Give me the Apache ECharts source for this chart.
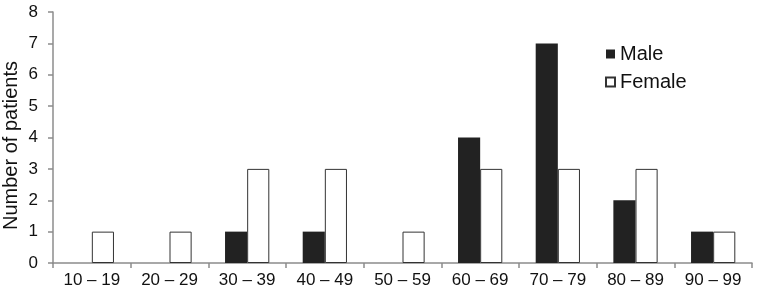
<!DOCTYPE html>
<html>
<head>
<meta charset="utf-8">
<script src="https://cdn.jsdelivr.net/npm/echarts@6/dist/echarts.min.js"></script>
<style>
html, body { margin: 0; padding: 0; background: #fff; }
#chart { width: 757px; height: 295px; }
</style>
</head>
<body>
<div id="chart"></div>
<script>
let ageGroups = ['10 – 19', '20 – 29', '30 – 39', '40 – 49', '50 – 59', '60 – 69', '70 – 79', '80 – 89', '90 – 99'];
let male = [0, 0, 1, 1, 0, 4, 7, 2, 1];
let female = [1, 1, 3, 3, 1, 3, 3, 3, 1];

let chart = echarts.init(document.getElementById('chart'));
let font = 'Liberation Sans, Arial, sans-serif';
let axisColor = '#8c8c8c';

let option = {
    animation: false,
    textStyle: { fontFamily: font },
    grid: { left: 53, right: 5, top: 12, bottom: 32, containLabel: false, outerBoundsMode: 'none' },
    legend: {
        orient: 'vertical',
        left: 600,
        top: 39,
        icon: 'rect',
        itemWidth: 9,
        itemHeight: 9,
        itemGap: 8,
        textStyle: { fontSize: 20, color: '#111', fontFamily: font },
        data: ['Male', 'Female']
    },
    xAxis: {
        type: 'category',
        data: ageGroups,
        axisLine: { lineStyle: { color: axisColor, width: 1.5 } },
        axisTick: { show: true, length: 5, lineStyle: { color: axisColor, width: 1.5 } },
        axisLabel: { fontSize: 17, color: '#111', margin: 9 }
    },
    yAxis: {
        type: 'value',
        min: 0,
        max: 8,
        interval: 1,
        name: 'Number of patients',
        nameLocation: 'middle',
        nameGap: 32,
        nameMoveOverlap: false,
        nameTextStyle: { fontSize: 20, color: '#111', padding: [0, 16, 0, 0] },
        splitLine: { show: false },
        axisLine: { show: true, lineStyle: { color: axisColor, width: 1.5 } },
        axisTick: { show: true, length: 5, lineStyle: { color: axisColor, width: 1.5 } },
        axisLabel: { fontSize: 17, color: '#111', margin: 15 }
    },
    series: [
        {
            name: 'Male',
            type: 'bar',
            data: male,
            barGap: '0%',
            barCategoryGap: '43%',
            itemStyle: { color: '#222', borderWidth: 0 }
        },
        {
            name: 'Female',
            type: 'bar',
            data: female,
            itemStyle: { color: '#fff', borderColor: '#333', borderWidth: 1 }
        }
    ]
};
chart.setOption(option);
</script>
</body>
</html>
